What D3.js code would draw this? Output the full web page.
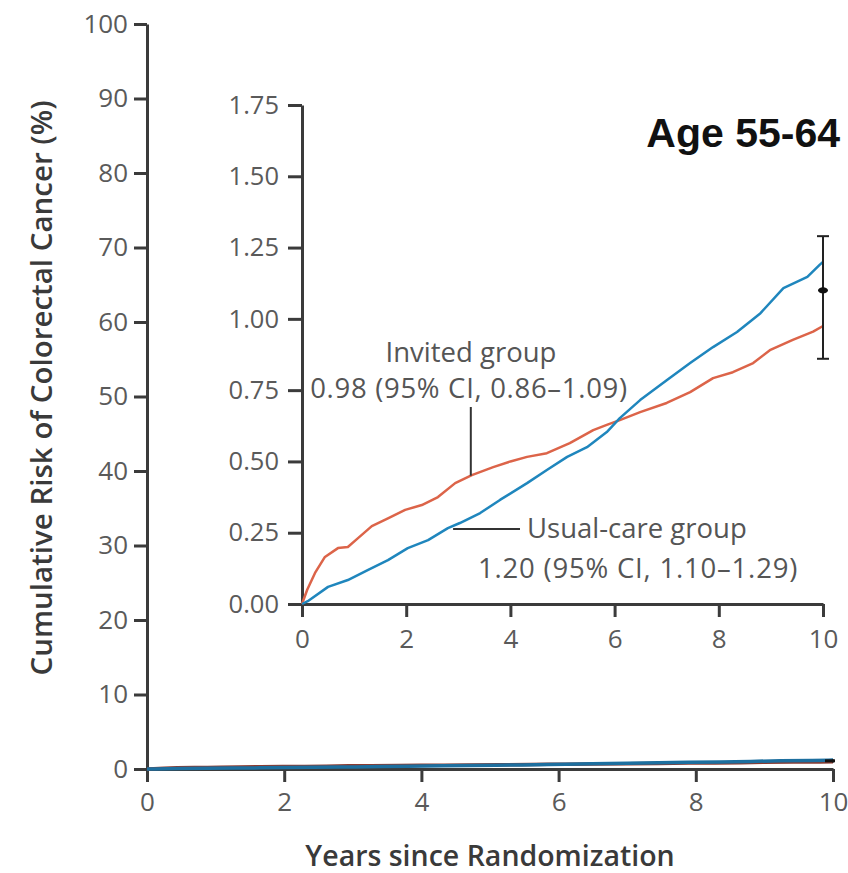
<!DOCTYPE html>
<html>
<head>
<meta charset="utf-8">
<script src="https://cdn.jsdelivr.net/npm/d3@7"></script>
<style>
  html, body { margin: 0; padding: 0; background: #fff; }
  svg { display: block; }
</style>
</head>
<body>
<svg id="chart" width="848" height="873"></svg>
<script>
// ---------------- DATA ----------------
const invitedYears = [0, 0.1, 0.25, 0.44, 0.69, 0.88, 1.07, 1.34, 1.65, 1.98, 2.30, 2.61, 2.94, 3.26, 3.67, 4.0, 4.32, 4.70, 5.14, 5.59, 5.85, 6.1, 6.49, 7.0, 7.45, 7.89, 8.27, 8.66, 8.98, 9.42, 9.81, 10.0];
const invitedRisk  = [0, 0.05, 0.109, 0.165, 0.196, 0.20, 0.23, 0.273, 0.30, 0.33, 0.347, 0.375, 0.424, 0.452, 0.48, 0.50, 0.516, 0.529, 0.564, 0.61, 0.628, 0.645, 0.673, 0.705, 0.743, 0.792, 0.813, 0.845, 0.89, 0.926, 0.955, 0.975];

const usualYears = [0, 0.11, 0.5, 0.88, 1.27, 1.65, 2.03, 2.42, 2.80, 3.03, 3.42, 3.80, 4.32, 4.70, 5.09, 5.47, 5.85, 6.10, 6.49, 7.0, 7.45, 7.89, 8.35, 8.80, 9.24, 9.70, 9.94, 10.0];
const usualRisk  = [0, 0.01, 0.06, 0.084, 0.12, 0.154, 0.196, 0.224, 0.266, 0.284, 0.319, 0.365, 0.424, 0.47, 0.516, 0.55, 0.603, 0.652, 0.715, 0.785, 0.845, 0.901, 0.954, 1.02, 1.108, 1.147, 1.19, 1.20];

// error bar at 10 years: [low, mid, high]
const errorBarYear = 10;
const errorBar = [0.86, 1.10, 1.29];

const mainYTicks  = [0, 10, 20, 30, 40, 50, 60, 70, 80, 90, 100];
const xTicks      = [0, 2, 4, 6, 8, 10];
const insetYTicks = [0, 0.25, 0.5, 0.75, 1.0, 1.25, 1.5, 1.75];

const panelTitle = "Age 55-64";
const yTitle = "Cumulative Risk of Colorectal Cancer (%)";
const xTitle = "Years since Randomization";
const invitedLabel = ["Invited group", "0.98 (95% CI, 0.86\u20131.09)"];
const usualLabel = ["Usual-care group", "1.20 (95% CI, 1.10\u20131.29)"];
// points on the curves where the leader lines attach
const invitedLeader = [3.24, 0.45];
const usualLeader = [2.9, 0.263];

// ---------------- DRAW ----------------
const svg = d3.select("#chart");
const axisColor = "#3b3b3b";
const tickTextColor = "#5a5a5a";
const redColor = "#dc6449";
const blueColor = "#1f86bd";
const tickFont = "'Open Sans', sans-serif";

const invited = invitedYears.map((t, i) => [t, invitedRisk[i]]);
const usual = usualYears.map((t, i) => [t, usualRisk[i]]);

// main scales
const xMain = d3.scaleLinear().domain([0, 10]).range([147, 833]);
const yMain = d3.scaleLinear().domain([0, 100]).range([769, 24]);

// inset scales
const xIn = d3.scaleLinear().domain([0, 10]).range([302, 823]);
const yIn = d3.scaleLinear().domain([0, 1.75]).range([604, 105]);

function styleAxis(g, fs) {
  g.select(".domain").attr("stroke", axisColor).attr("stroke-width", 3);
  g.selectAll(".tick line").attr("stroke", axisColor).attr("stroke-width", 3);
  g.selectAll(".tick text")
    .attr("fill", tickTextColor)
    .style("font-family", tickFont)
    .style("font-size", fs + "px");
}

// main axes
const gMainY = svg.append("g").attr("transform", `translate(${xMain(0)},0)`)
  .call(d3.axisLeft(yMain).tickValues(mainYTicks).tickSize(13).tickSizeOuter(0).tickPadding(6).tickFormat(d3.format("d")));
styleAxis(gMainY, 26);

const gMainX = svg.append("g").attr("transform", `translate(0,${yMain(0)})`)
  .call(d3.axisBottom(xMain).tickValues(xTicks).tickSize(13).tickSizeOuter(0).tickPadding(11).tickFormat(d3.format("d")));
styleAxis(gMainX, 26);

// main curves (same data on 0–100 scale)
const lineMain = d3.line().x(d => xMain(d[0])).y(d => yMain(d[1]));
svg.append("path").datum(invited).attr("d", lineMain)
  .attr("fill", "none").attr("stroke", "#8a3b30").attr("stroke-width", 3.5);
svg.append("path").datum(usual).attr("d", lineMain)
  .attr("fill", "none").attr("stroke", "#1d6f9f").attr("stroke-width", 3.5);
// main error bar
const gEbMain = svg.append("g").attr("stroke", "#111").attr("stroke-width", 2);
gEbMain.append("line").attr("x1", xMain(errorBarYear)).attr("x2", xMain(errorBarYear))
  .attr("y1", yMain(errorBar[0])).attr("y2", yMain(errorBar[2]));
gEbMain.append("line").attr("x1", xMain(errorBarYear) - 8).attr("x2", xMain(errorBarYear) + 2)
  .attr("y1", yMain(errorBar[1])).attr("y2", yMain(errorBar[1])).attr("stroke-width", 3);

// inset axes
const gInY = svg.append("g").attr("transform", `translate(${xIn(0)},0)`)
  .call(d3.axisLeft(yIn).tickValues(insetYTicks).tickSize(14).tickSizeOuter(0).tickPadding(9).tickFormat(d3.format(".2f")));
styleAxis(gInY, 25.5);

const gInX = svg.append("g").attr("transform", `translate(0,${yIn(0)})`)
  .call(d3.axisBottom(xIn).tickValues(xTicks).tickSize(13).tickSizeOuter(0).tickPadding(13).tickFormat(d3.format("d")));
styleAxis(gInX, 26);

// inset curves
const lineIn = d3.line().x(d => xIn(d[0])).y(d => yIn(d[1]));
svg.append("path").datum(invited).attr("d", lineIn)
  .attr("fill", "none").attr("stroke", redColor).attr("stroke-width", 2.5).attr("stroke-linejoin", "round");
svg.append("path").datum(usual).attr("d", lineIn)
  .attr("fill", "none").attr("stroke", blueColor).attr("stroke-width", 2.5).attr("stroke-linejoin", "round");

// inset error bar
const ebx = xIn(errorBarYear);
const gEb = svg.append("g").attr("stroke", "#222").attr("stroke-width", 2);
gEb.append("line").attr("x1", ebx).attr("x2", ebx).attr("y1", yIn(errorBar[0])).attr("y2", yIn(errorBar[2]));
gEb.append("line").attr("x1", ebx - 6).attr("x2", ebx + 6).attr("y1", yIn(errorBar[0])).attr("y2", yIn(errorBar[0]));
gEb.append("line").attr("x1", ebx - 6).attr("x2", ebx + 6).attr("y1", yIn(errorBar[2])).attr("y2", yIn(errorBar[2]));
svg.append("ellipse").attr("cx", ebx).attr("cy", yIn(errorBar[1])).attr("rx", 5).attr("ry", 3).attr("fill", "#111");

// annotations
const annFont = "'Open Sans', sans-serif";
const annColor = "#555";
const annSize = 27.5;
svg.append("text").attr("x", 471).attr("y", 362).attr("text-anchor", "middle")
  .style("font-family", annFont).style("font-size", annSize + "px").attr("fill", annColor).text(invitedLabel[0]);
svg.append("text").attr("x", 469).attr("y", 398).attr("text-anchor", "middle")
  .style("font-family", annFont).style("font-size", annSize + "px").style("letter-spacing", "0.7px")
  .attr("fill", annColor).text(invitedLabel[1]);
svg.append("line").attr("x1", xIn(invitedLeader[0])).attr("x2", xIn(invitedLeader[0]))
  .attr("y1", 407).attr("y2", yIn(invitedLeader[1])).attr("stroke", "#333").attr("stroke-width", 2);

svg.append("text").attr("x", 527).attr("y", 538)
  .style("font-family", annFont).style("font-size", annSize + "px").attr("fill", annColor).text(usualLabel[0]);
svg.append("text").attr("x", 478).attr("y", 578)
  .style("font-family", annFont).style("font-size", annSize + "px").style("letter-spacing", "0.8px")
  .attr("fill", annColor).text(usualLabel[1]);
svg.append("line").attr("x1", xIn(usualLeader[0])).attr("x2", 520)
  .attr("y1", yIn(usualLeader[1])).attr("y2", yIn(usualLeader[1])).attr("stroke", "#333").attr("stroke-width", 2);

// panel title
svg.append("text").attr("x", 840).attr("y", 147).attr("text-anchor", "end")
  .style("font-family", "'Liberation Sans', Arial, sans-serif").style("font-weight", "bold")
  .style("font-size", "41px").attr("fill", "#111").text(panelTitle);

// axis titles
svg.append("text").attr("transform", "translate(52,388) rotate(-90)").attr("text-anchor", "middle")
  .style("font-family", "'Open Sans', sans-serif").style("font-weight", 600)
  .style("font-size", "29.5px").attr("fill", "#3a3a3a").text(yTitle);
svg.append("text").attr("x", 490).attr("y", 866).attr("text-anchor", "middle")
  .style("font-family", "'Open Sans', sans-serif").style("font-weight", 600)
  .style("font-size", "28.5px").attr("fill", "#3a3a3a").text(xTitle);
</script>
</body>
</html>
